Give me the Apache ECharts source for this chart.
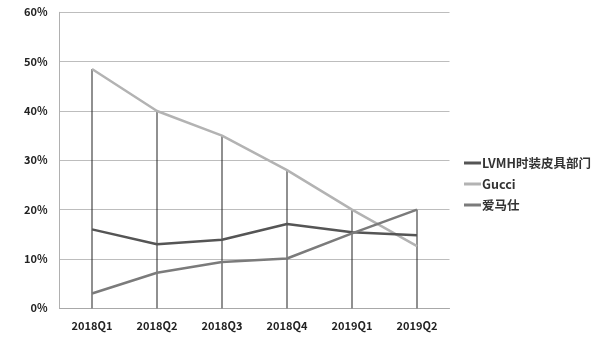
<!DOCTYPE html>
<html><head><meta charset="utf-8">
<script src="https://cdn.jsdelivr.net/npm/echarts@6/dist/echarts.min.js"></script>
<style>html,body{margin:0;padding:0;background:#fff}#c{width:600px;height:344px}</style>
</head><body><div id="c"></div>
<script>
const categories = ['2018Q1','2018Q2','2018Q3','2018Q4','2019Q1','2019Q2'];
const lvmh = [16.0, 13.0, 13.9, 17.1, 15.4, 14.8];
const gucci = [48.5, 40.0, 35.0, 28.0, 20.0, 12.6];
const hermes = [3.0, 7.2, 9.4, 10.1, 15.2, 20.0];
const yTicks = [0, 10, 20, 30, 40, 50, 60];
const dropLines = categories.map((c, i) => Math.max(lvmh[i], gucci[i], hermes[i]));

const chart = echarts.init(document.getElementById('c'), null, {renderer: 'canvas'});
const font = '"Noto Sans CJK SC", "Open Sans", sans-serif';
chart.setOption({
  animation: false,
  backgroundColor: '#fff',
  grid: {left: 59.5, right: 150.5, top: 12.3, bottom: 35.7},
  legend: {
    orient: 'vertical', left: 459, top: 150, itemGap: 5,
    itemWidth: 17, itemHeight: 3, icon: 'rect',
    data: ['LVMH时装皮具部门', 'Gucci', '爱马仕'],
    textStyle: {fontFamily: font, fontSize: 12.5, fontWeight: 'bold', color: '#333', padding: [0,0,0,-4], lineHeight: 16}
  },
  xAxis: {
    type: 'category', data: categories, boundaryGap: true,
    axisLine: {lineStyle: {color: '#a8a8a8', width: 1}},
    axisTick: {show: false},
    axisLabel: {fontFamily: font, fontSize: 11, fontWeight: 'bold', color: '#222', margin: 12}
  },
  yAxis: {
    type: 'value', min: 0, max: 60, interval: 10,
    axisLine: {show: true, lineStyle: {color: '#b0b0b0', width: 1}}, axisTick: {show: false},
    axisLabel: {fontFamily: font, fontSize: 11, fontWeight: 'bold', color: '#222', margin: 12,
      formatter: v => yTicks.includes(v) ? v + '%' : ''},
    splitLine: {lineStyle: {color: '#bdbdbd', width: 1}}
  },
  series: [
    {name: 'drop', type: 'bar', data: dropLines, barWidth: 1, silent: true,
     itemStyle: {color: '#222'}, z: 1},
    {name: 'LVMH时装皮具部门', type: 'line', data: lvmh, showSymbol: false, symbol: 'none',
     lineStyle: {color: '#555', width: 2.5}, itemStyle: {color: '#555'}, z: 3},
    {name: 'Gucci', type: 'line', data: gucci, showSymbol: false, symbol: 'none',
     lineStyle: {color: '#b3b3b3', width: 2.5}, itemStyle: {color: '#b3b3b3'}, z: 2},
    {name: '爱马仕', type: 'line', data: hermes, showSymbol: false, symbol: 'none',
     lineStyle: {color: '#7b7b7b', width: 2.5}, itemStyle: {color: '#7b7b7b'}, z: 4}
  ]
});
</script></body></html>
